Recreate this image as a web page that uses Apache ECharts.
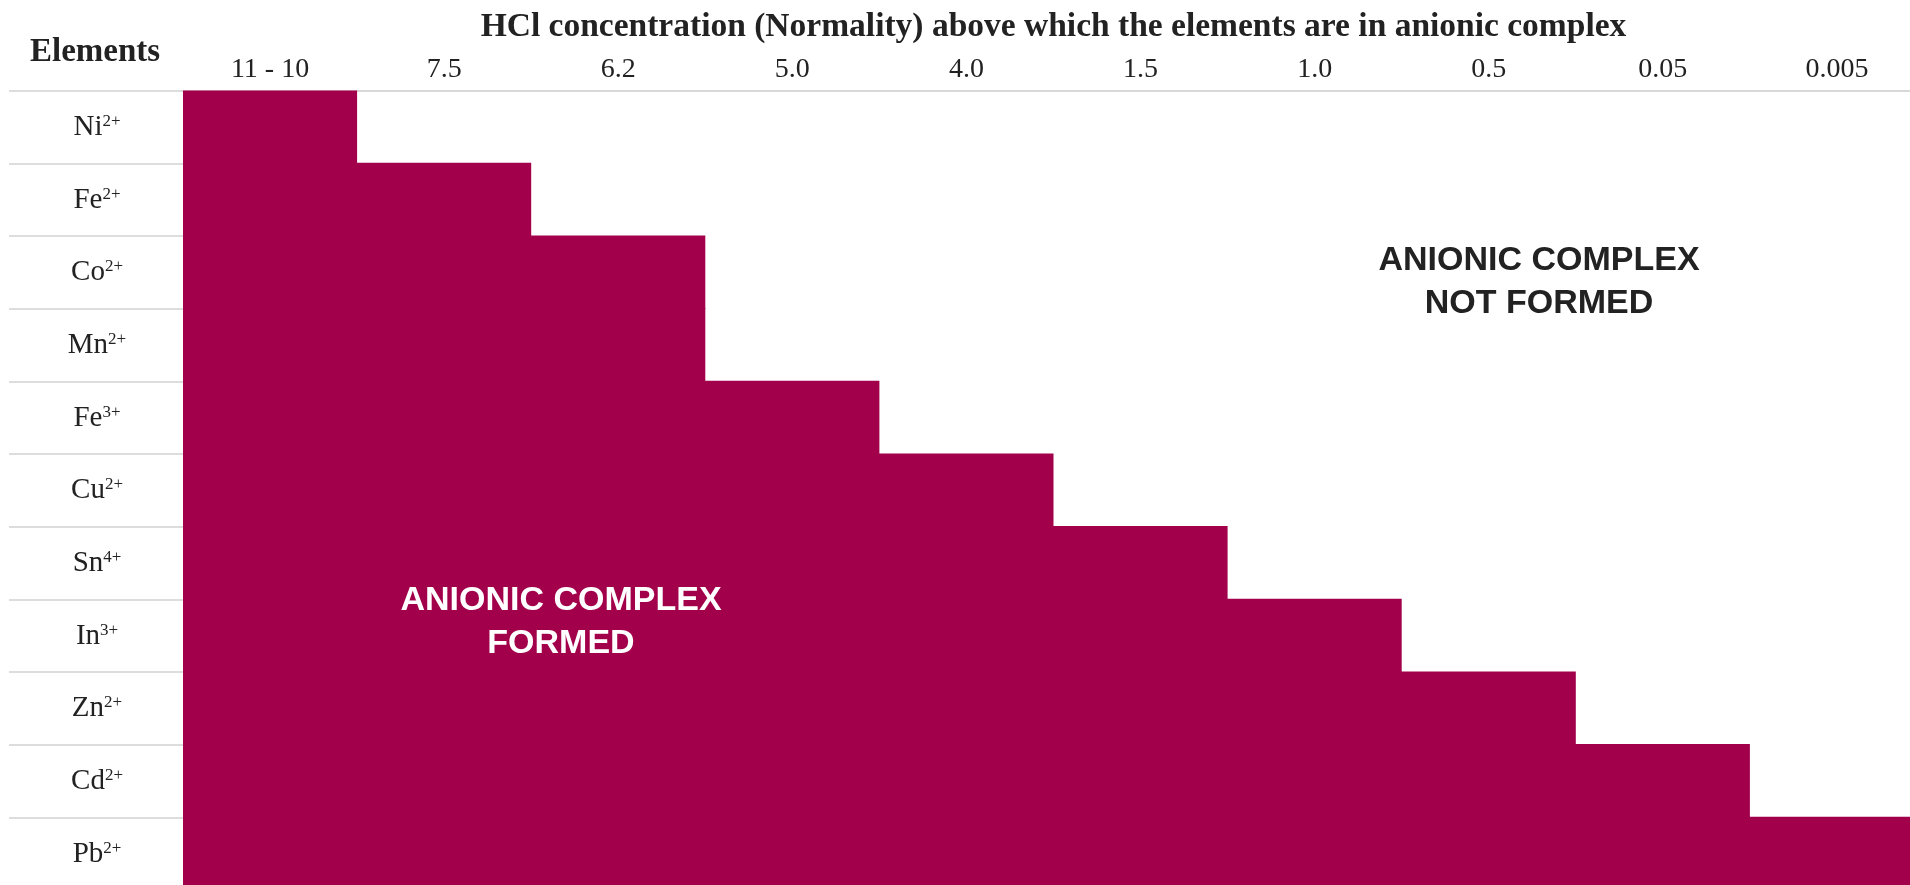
<!DOCTYPE html>
<html>
<head>
<meta charset="utf-8">
<script src="https://cdn.jsdelivr.net/npm/echarts@6/dist/echarts.min.js"></script>
<style>
html,body{margin:0;padding:0;background:#fff;}
#chart{width:1910px;height:885px;}
</style>
</head>
<body>
<div id="chart"></div>
<script>
// Column categories: HCl concentration (Normality)
const concentrations = ['11 - 10', '7.5', '6.2', '5.0', '4.0', '1.5', '1.0', '0.5', '0.05', '0.005'];
// Elements (rows) with their ionic charge
const elementSymbols = ['Ni', 'Fe', 'Co', 'Mn', 'Fe', 'Cu', 'Sn', 'In', 'Zn', 'Cd', 'Pb'];
const elementCharges = ['2+', '2+', '2+', '2+', '3+', '2+', '4+', '3+', '2+', '2+', '2+'];
// Concentration above which each element is in anionic complex
const thresholds = ['11 - 10', '7.5', '6.2', '6.2', '5.0', '4.0', '1.5', '1.0', '0.5', '0.05', '0.005'];

const elements = elementSymbols.map((s, i) => s + elementCharges[i]);
const barValues = thresholds.map(t => concentrations.indexOf(t) + 1);

const SERIF = '"Liberation Serif", "DejaVu Serif", serif';
const SANS = '"Liberation Sans", Arial, Helvetica, sans-serif';
const MAGENTA = '#A3004C';
const INK = '#222222';

const chart = echarts.init(document.getElementById('chart'), null, {renderer: 'canvas'});
chart.setOption({
  animation: false,
  backgroundColor: '#ffffff',
  title: {
    text: 'Elements',
    left: 30, top: 36, padding: 0,
    textStyle: {fontFamily: SERIF, fontWeight: 'bold', fontSize: 33, color: INK}
  },
  grid: {left: 183, right: -14, top: 90.6, bottom: -5, containLabel: false, outerBoundsMode: 'none'},
  xAxis: [
    {
      type: 'category',
      position: 'top',
      data: concentrations,
      boundaryGap: true,
      name: 'HCl concentration (Normality) above which the elements are in anionic complex',
      nameLocation: 'middle',
      nameGap: 46,
      nameTextStyle: {fontFamily: SERIF, fontWeight: 'bold', fontSize: 33.5, color: INK},
      axisLine: {show: true, lineStyle: {color: '#cccccc', width: 1.5}},
      axisTick: {show: false},
      axisLabel: {fontFamily: SERIF, fontSize: 28, color: INK, margin: 7, interval: 0},
      splitLine: {show: false}
    },
    {
      type: 'value',
      min: 0, max: concentrations.length,
      show: false
    }
  ],
  yAxis: {
    type: 'category',
    inverse: true,
    data: elements,
    axisLine: {show: false},
    axisTick: {show: true, length: 174, interval: 0, lineStyle: {color: '#d2d2d2', width: 1.5}},
    axisLabel: {
      margin: 86,
      align: 'center',
      interval: 0,
      formatter: function (v, i) {
        return '{b|' + elementSymbols[i] + '}{s|' + elementCharges[i] + '}';
      },
      rich: {
        b: {fontFamily: SERIF, fontSize: 29, color: INK, verticalAlign: 'bottom', lineHeight: 30},
        s: {fontFamily: SERIF, fontSize: 17, color: INK, verticalAlign: 'top', lineHeight: 17, padding: [1, 0, 0, 0]}
      }
    },
    splitLine: {show: false}
  },
  series: [{
    type: 'bar',
    xAxisIndex: 1,
    data: barValues,
    barWidth: '101.5%',
    barCategoryGap: 0,
    itemStyle: {color: MAGENTA},
    silent: true
  }],
  graphic: [
    {
      type: 'text', x: 561, y: 622, z: 100,
      style: {
        text: 'ANIONIC COMPLEX\nFORMED', fill: '#ffffff',
        font: 'bold 34px ' + SANS, textAlign: 'center', textVerticalAlign: 'middle', lineHeight: 43
      }
    },
    {
      type: 'text', x: 1539, y: 282, z: 100,
      style: {
        text: 'ANIONIC COMPLEX\nNOT FORMED', fill: INK,
        font: 'bold 34px ' + SANS, textAlign: 'center', textVerticalAlign: 'middle', lineHeight: 43
      }
    }
  ]
});
</script>
</body>
</html>
